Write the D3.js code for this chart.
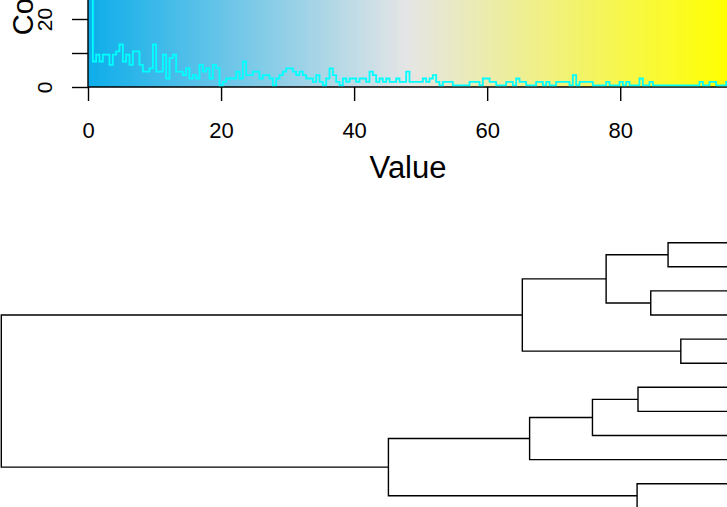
<!DOCTYPE html>
<html>
<head>
<meta charset="utf-8">
<script src="https://cdn.jsdelivr.net/npm/d3@7"></script>
<style>
  body { margin: 0; background: #fff; }
  svg { display: block; }
  text { font-family: "Liberation Sans", Arial, Helvetica, sans-serif; }
</style>
</head>
<body>
<svg id="plotSVG" width="727" height="507"></svg>
<script>
// histogram counts of the colour key (bins of equal width from 0 to keyMax)
var histCounts = [
  40, 7, 9, 7, 9, 9, 6, 9, 10, 12, 7, 9, 6, 10, 10, 6, 4, 4, 5, 12,
  4, 4, 9, 2, 8, 9, 4, 4, 3, 5, 2, 3, 2, 6, 4, 5, 2, 6, 5, 0,
  1, 2, 2, 2, 4, 2, 7, 3, 3, 4, 4, 2, 3, 3, 2, 0, 2, 3, 4, 5,
  5, 4, 3, 4, 3, 2, 2, 1, 3, 1, 0, 2, 5, 3, 1, 0, 2, 1, 2, 2,
  1, 2, 2, 1, 4, 3, 1, 2, 1, 2, 1, 1, 2, 1, 1, 4, 1, 1, 1, 1,
  2, 1, 2, 3, 1, 0, 1, 1, 1, 0, 0, 0, 0, 0, 1, 1, 1, 0, 2, 2,
  1, 1, 0, 0, 0, 1, 1, 0, 2, 1, 1, 0, 0, 0, 1, 1, 0, 1, 0, 0,
  1, 1, 1, 1, 0, 3, 0, 1, 1, 1, 1, 0, 0, 0, 0, 1, 0, 0, 0, 1,
  0, 1, 0, 0, 0, 2, 0, 0, 1, 0, 0, 0, 0, 0, 0, 0, 0, 0, 0, 0,
  0, 0, 0, 1, 0, 0, 1, 1, 0, 0, 0, 1
];
var keyMax = 96.2;
var xTicks = [0, 20, 40, 60, 80];
var yTicks = [0, 10, 20];
var yTickLabels = ["0", "", "20"];
var keyColors = ["#0DADEA", "#E5E5E5", "#FFFF00"];

// row dendrogram, hclust style: negative = leaf (in display order), positive = earlier step
var mergeLeft  = [-5, -1, -3, -7, -11, 2, 4, 7, 6, 8, 9];
var mergeRight = [-6, -2, -4, -8, -12, 3, -9, -10, 1, 5, 10];
var mergeHeight = [0.54, 0.68, 0.87, 1.01, 1.02, 1.36, 1.51, 2.20, 2.28, 3.75, 8.0];
var leafCount = 12;

var svg = d3.select("#plotSVG");

// ---- colour key ----
var x = d3.scaleLinear().domain([0, keyMax]).range([88, 728]);
var y = d3.scaleLinear().domain([0, 20]).range([87, 19]);
var yHist = d3.scaleLinear().domain([0, 20]).range([85.3, 17.3]); // hist sits just above the box line
var color = d3.scaleLinear().domain([0, keyMax / 2, keyMax]).range(keyColors);
var binW = keyMax / histCounts.length;

var key = svg.append("g");

key.selectAll(".cell")
  .data(histCounts)
  .join("rect")
  .attr("class", "cell")
  .attr("x", (d, i) => x(i * binW))
  .attr("width", (d, i) => x((i + 1) * binW) - x(i * binW) + 1)
  .attr("y", -20)
  .attr("height", y(0) + 20)
  .attr("shape-rendering", "crispEdges")
  .attr("fill", (d, i) => color((i + 0.5) * binW));

// box
key.append("path")
  .attr("fill", "none")
  .attr("stroke", "#000")
  .attr("stroke-width", 1.4)
  .attr("d", "M" + x(0) + "," + (-5) + "V" + y(0) + "H" + 740);

var stepPts = histCounts.map((d, i) => [i * binW, d]);
stepPts.push([keyMax, histCounts[histCounts.length - 1]]);

key.append("path")
  .datum(stepPts)
  .attr("fill", "none")
  .attr("stroke", "#00FFFF")
  .attr("stroke-width", 1.8)
  .attr("d", d3.line().x(d => x(d[0]) + 1.5).y(d => yHist(d[1])).curve(d3.curveStepAfter));

var xAxis = key.append("g")
  .attr("transform", "translate(0," + y(0) + ")")
  .call(d3.axisBottom(x).tickValues(xTicks).tickSize(14).tickPadding(21).tickFormat(d3.format("d")));
xAxis.select(".domain").remove();
xAxis.selectAll("line").attr("stroke-width", 1.4);
xAxis.selectAll("text").style("font-size", "22px").attr("fill", "#000");

var yAxis = key.append("g")
  .attr("transform", "translate(" + x(0) + ",0)")
  .call(d3.axisLeft(y).tickValues(yTicks).tickSize(16).tickFormat((d, i) => yTickLabels[i]));
yAxis.select(".domain").remove();
yAxis.selectAll("line").attr("stroke-width", 1.4);
yAxis.selectAll("text")
  .attr("x", 0)
  .attr("dy", null)
  .attr("text-anchor", "middle")
  .attr("transform", "translate(-36,0) rotate(-90)")
  .style("font-size", "21px")
  .attr("fill", "#000");

key.append("text")
  .attr("x", 408)
  .attr("y", 178)
  .attr("text-anchor", "middle")
  .style("font-size", "31px")
  .text("Value");

key.append("text")
  .attr("text-anchor", "middle")
  .attr("transform", "translate(33,-3.5) rotate(-90)")
  .style("font-size", "29px")
  .text("Count");

// ---- row dendrogram ----
var hx = d3.scaleLinear().domain([0, 8.0]).range([730, 1.3]);
var leafY = d3.scaleLinear().domain([0, leafCount - 1]).range([242.7, 507.8]);

var nodes = [];
function pos(id) {
  if (id < 0) return { x: hx(0), y: leafY(-id - 1) };
  return nodes[id - 1];
}
var edges = [];
mergeHeight.forEach((h, k) => {
  var a = pos(mergeLeft[k]), b = pos(mergeRight[k]);
  var nx = hx(h);
  nodes.push({ x: nx, y: (a.y + b.y) / 2 });
  edges.push("M" + a.x + "," + a.y + "H" + nx + "V" + b.y + "H" + b.x);
});

svg.append("g")
  .selectAll("path")
  .data(edges)
  .join("path")
  .attr("d", d => d)
  .attr("fill", "none")
  .attr("stroke", "#000")
  .attr("stroke-width", 1.4);
</script>
</body>
</html>
